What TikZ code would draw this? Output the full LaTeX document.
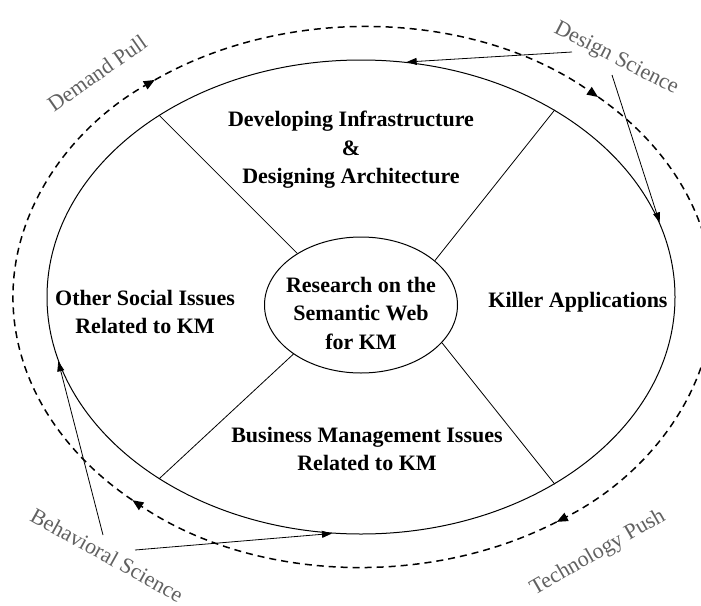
\documentclass[tikz,border=0pt]{standalone}
\usepackage{fontspec}
\setmainfont{Liberation Serif}
\usepackage{xcolor}
\usetikzlibrary{arrows.meta, positioning, shapes.geometric}

\begin{document}
\begin{tikzpicture}[
    x=1pt, y=-1pt,
    topic/.style={align=center, font=\fontsize{22}{28.5}\selectfont\bfseries},
    side/.style={font=\fontsize{22}{26}\selectfont, text=black!62},
    loopline/.style={dash pattern=on 7pt off 5pt, line width=1.5pt, -{Triangle[length=11pt,width=9pt]}},
    push/.style={line width=0.8pt, -{Triangle[length=10pt,width=7pt]}}
]
\useasboundingbox (0,0) rectangle (701,605);
\clip (0,0) rectangle (701,605);

% Outer ellipse
\node[draw, ellipse, line width=1pt, inner sep=0pt, minimum width=628pt, minimum height=474pt] (outer) at (361,297) {};

% Center ellipse
\node[draw, ellipse, line width=1pt, inner sep=0pt, minimum width=193pt, minimum height=136pt] (core) at (361,305) {};
\node[topic] (coretext) at (361,313) {Research on the\\Semantic Web\\for KM};

% Four areas
\node[topic] (infra) at (351,150) {Developing Infrastructure\\\&\\Designing Architecture};
\node[topic] (killer) at (578,302) {Killer Applications};
\node[topic] (social) at (145,312) {Other Social Issues\\Related to KM};
\node[topic] (business) at (367,449) {Business Management Issues\\Related to KM};

% Dividers
\draw[line width=0.8pt] (outer.138) -- (core.141);
\draw[line width=0.8pt] (outer.44) -- (core.31);
\draw[line width=0.8pt] (outer.222) -- (core.216);
\draw[line width=0.8pt] (outer.316) -- (core.335);

% Dashed cycle
\coordinate (tipDS) at (598.2,97);
\coordinate (tipTP) at (556.6,521.9);
\coordinate (tipBS) at (132.4,500.1);
\coordinate (tipDP) at (154.8,80);
\draw[loopline] (tipDS) arc[start angle=-47.8, end angle=56.4, x radius=350, y radius=270];
\draw[loopline] (tipTP) arc[start angle=56.4, end angle=131.2, x radius=350, y radius=270];
\draw[loopline] (tipBS) arc[start angle=131.2, end angle=233.5, x radius=350, y radius=270];
\draw[loopline] (tipDP) arc[start angle=233.5, end angle=312.2, x radius=350, y radius=270];

% Outer labels
\node[side, rotate=35] (demand) at (97,73) {Demand Pull};
\node[side, rotate=-27] (design) at (616,59) {Design Science};
\node[side, rotate=-29] (behav) at (107,555) {Behavioral Science};
\node[side, rotate=30] (techno) at (598,553) {Technology Push};

% Science arrows
\coordinate (dsA) at (572,52);
\coordinate (dsB) at (612,75);
\coordinate (bsA) at (103,535);
\coordinate (bsB) at (135,550);
\draw[push] (dsA) -- (outer.79.5);
\draw[push] (dsB) -- (outer.14.6);
\draw[push] (bsA) -- (outer.192.2);
\draw[push] (bsB) -- (outer.263.8);

\end{tikzpicture}
\end{document}
